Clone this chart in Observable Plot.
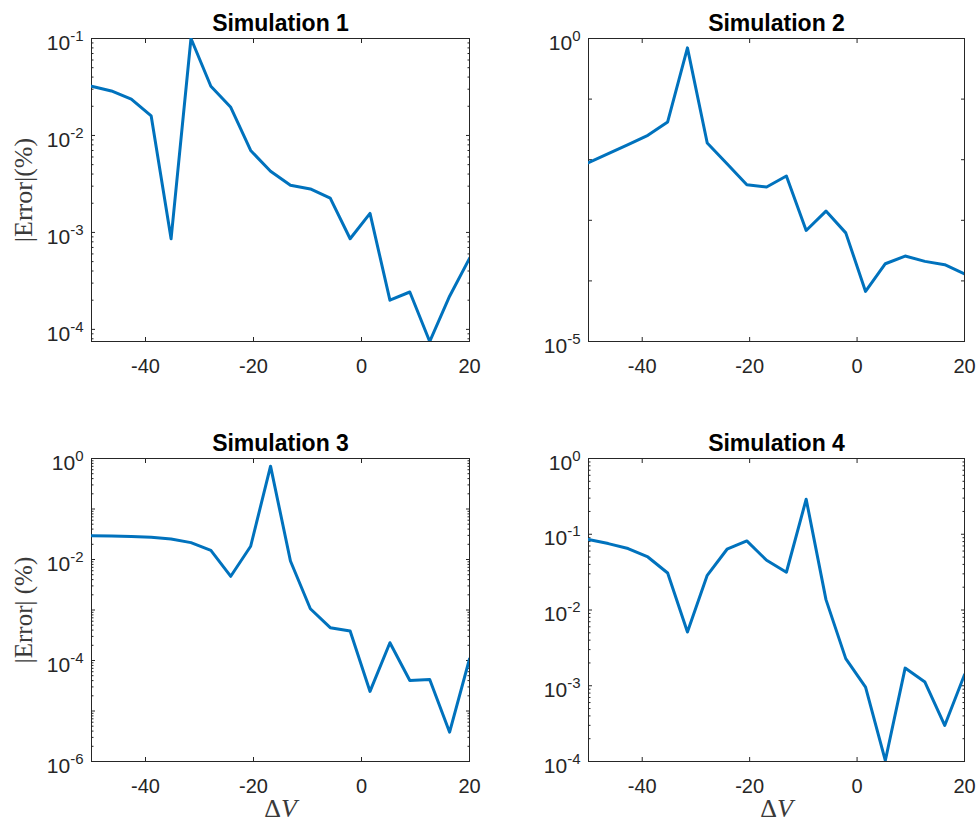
<!DOCTYPE html>
<html>
<head>
<meta charset="utf-8">
<script src="https://cdn.jsdelivr.net/npm/d3@7"></script>
<script src="https://cdn.jsdelivr.net/npm/@observablehq/plot@0.6"></script>
<style>
  body { margin: 0; background: #fff; }
  #fig { position: relative; width: 980px; height: 821px; background: #fff; }
  .panel { position: absolute; }
</style>
</head>
<body>
<div id="fig"></div>
<script>
// Voltage offsets shared by every simulation
const deltaV = [-50, -46.316, -42.632, -38.947, -35.263, -31.579, -27.895, -24.211, -20.526, -16.842,
                -13.158, -9.474, -5.789, -2.105, 1.579, 5.263, 8.947, 12.632, 16.316, 20];

const titles = ["Simulation 1", "Simulation 2", "Simulation 3", "Simulation 4"];

// |Error| (%) for each simulation
const err1 = [0.0322, 0.0288, 0.0237, 0.0159, 8.6e-4, 0.1, 0.0322, 0.0195, 0.0070, 0.00427,
              0.00306, 0.00281, 0.00226, 8.6e-4, 0.00157, 2.0e-4, 2.43e-4, 7.5e-5, 2.2e-4, 5.4e-4];
const err2 = [0.00895, 0.0126, 0.0178, 0.0253, 0.0420, 0.70, 0.0189, 0.0086, 0.00387, 0.00355,
              0.00538, 6.8e-4, 1.42e-3, 6.2e-4, 6.7e-5, 1.92e-4, 2.57e-4, 2.10e-4, 1.85e-4, 1.31e-4];
const err3 = [0.0297, 0.0293, 0.0284, 0.0275, 0.0255, 0.0216, 0.0152, 0.00465, 0.0183, 0.705,
              0.00935, 1.06e-3, 4.46e-4, 3.83e-4, 2.44e-5, 2.25e-4, 4.03e-5, 4.22e-5, 3.8e-6, 1.07e-4];
const err4 = [0.0851, 0.0753, 0.0647, 0.0501, 0.0308, 0.00512, 0.0287, 0.0634, 0.0817, 0.0453,
              0.0315, 0.290, 0.0137, 0.00228, 9.6e-4, 1.03e-4, 1.71e-3, 1.12e-3, 2.99e-4, 1.40e-3];

// Axis domains and ticks
const xDomain = [-50, 20];
const xTicks = [-40, -20, 0, 20];

const yDomain1 = [7.5e-5, 1e-1];
const yDomain2 = [1e-5, 1e0];
const yDomain3 = [1e-6, 1e0];
const yDomain4 = [1e-4, 1e0];

const yMajor1 = [1e-4, 1e-3, 1e-2, 1e-1];
const yMajor2 = [1e-5, 1e-4, 1e-3, 1e-2, 1e-1, 1e0];
const yMajor3 = [1e-6, 1e-5, 1e-4, 1e-3, 1e-2, 1e-1, 1e0];
const yMajor4 = [1e-4, 1e-3, 1e-2, 1e-1, 1e0];

const yLabels1 = [1e-4, 1e-3, 1e-2, 1e-1];
const yLabels2 = [1e-5, 1e0];
const yLabels3 = [1e-6, 1e-4, 1e-2, 1e0];
const yLabels4 = [1e-4, 1e-3, 1e-2, 1e-1, 1e0];

const yTitle1 = "|Error|(%)";
const yTitle3 = "|Error| (%)";
const xTitle = "ΔV";

const INK = "#262626";
const LINE = "#0072BD";
const SANS = "'Liberation Sans', Arial, Helvetica, sans-serif";
const SERIF = "'Liberation Serif', 'DejaVu Serif', serif";

// 2..9 × 10^k sub-ticks that fall inside a log domain
function logMinor([lo, hi]) {
  const out = [];
  for (let k = Math.floor(Math.log10(lo)); k <= Math.ceil(Math.log10(hi)); k++) {
    for (let m = 2; m <= 9; m++) {
      const v = m * Math.pow(10, k);
      if (v >= lo * 0.9999 && v <= hi * 1.0001) out.push(v);
    }
  }
  return out;
}

const powerLabel = d => `10^${Math.round(Math.log10(d))}`;
const blank = () => "";

function panel(cfg) {
  const rows = deltaV.map((v, i) => ({dv: v, err: cfg.values[i]}));
  const minor = cfg.minor ? logMinor(cfg.yDomain) : [];
  const marks = [
    Plot.frame({stroke: INK, strokeWidth: 1}),
    // x axis: labels below, inward ticks on bottom and top
    Plot.axisX(xTicks, {anchor: "bottom", tickSize: 0, tickPadding: 17, tickFormat: d => String(d),
                        label: null, fontSize: 20, fill: INK}),
    Plot.axisX(xTicks, {anchor: "bottom", tickSize: -4, tickFormat: blank, label: null, stroke: INK}),
    Plot.axisX(xTicks, {anchor: "top", tickSize: -4, tickFormat: blank, label: null, stroke: INK}),
    // y axis: power-of-ten labels, inward ticks on left and right
    Plot.axisY(cfg.yLabels, {anchor: "left", tickSize: 0, tickPadding: 8, tickFormat: powerLabel,
                             label: null, fontSize: 21, dy: 4.5, fill: INK}),
    Plot.axisY(cfg.yMajor, {anchor: "left", tickSize: -4, tickFormat: blank, label: null, stroke: INK}),
    Plot.axisY(cfg.yMajor, {anchor: "right", tickSize: -4, tickFormat: blank, label: null, stroke: INK}),
  ];
  if (minor.length) {
    marks.push(
      Plot.axisY(minor, {anchor: "left", tickSize: -2.5, tickFormat: blank, label: null, stroke: INK}),
      Plot.axisY(minor, {anchor: "right", tickSize: -2.5, tickFormat: blank, label: null, stroke: INK})
    );
  }
  marks.push(
    Plot.line(rows, {x: "dv", y: "err", stroke: LINE, strokeWidth: 3, clip: true}),
    Plot.text([cfg.title], {frameAnchor: "top", lineAnchor: "bottom", dy: -8, fontSize: 23,
                            fontWeight: "bold", fill: "#000", fontFamily: SANS})
  );
  if (cfg.yTitle) {
    marks.push(Plot.text([cfg.yTitle], {frameAnchor: "left", rotate: -90, dx: -68, textAnchor: "middle",
                                        lineAnchor: "middle", fontSize: cfg.yTitleSize, fill: "#3a3a3a",
                                        fontFamily: SERIF}));
  }
  if (cfg.xTitle) {
    marks.push(Plot.text([cfg.xTitle], {frameAnchor: "bottom", lineAnchor: "bottom", dy: 55,
                                        fontSize: 26, fill: "#3a3a3a", fontFamily: SERIF}));
  }
  const svg = Plot.plot({
    width: cfg.width, height: cfg.height,
    marginLeft: cfg.ml, marginRight: cfg.mr, marginTop: cfg.mt, marginBottom: cfg.mb,
    x: {type: "linear", domain: xDomain},
    y: {type: "log", domain: cfg.yDomain},
    style: {fontFamily: SANS, fontSize: "20px", color: INK, background: "#fff", overflow: "visible"},
    marks
  });

  // exponents as superscripts, italic V in ΔV
  d3.select(svg).selectAll("text").each(function () {
    const t = this.textContent;
    if (/^10\^/.test(t)) {
      const exp = t.slice(3);
      const sel = d3.select(this);
      sel.text("");
      sel.append("tspan").text("10");
      sel.append("tspan").attr("font-size", 15).attr("dy", "-0.6em").text(exp);
    } else if (t === "ΔV") {
      const sel = d3.select(this);
      sel.text("");
      sel.append("tspan").text("Δ");
      sel.append("tspan").attr("font-style", "italic").text("V");
    }
  });

  const holder = document.createElement("div");
  holder.className = "panel";
  holder.style.left = cfg.left + "px";
  holder.style.top = cfg.top + "px";
  holder.appendChild(svg);
  document.getElementById("fig").appendChild(holder);
}

panel({title: titles[0], values: err1, yDomain: yDomain1, yMajor: yMajor1, yLabels: yLabels1, minor: true,
       yTitle: yTitle1, yTitleSize: 26, left: 0, top: 0, width: 490, height: 410, ml: 91, mr: 21, mt: 38, mb: 69});
panel({title: titles[1], values: err2, yDomain: yDomain2, yMajor: yMajor2, yLabels: yLabels2, minor: false,
       left: 490, top: 0, width: 490, height: 410, ml: 98, mr: 16, mt: 38, mb: 69});
panel({title: titles[2], values: err3, yDomain: yDomain3, yMajor: yMajor3, yLabels: yLabels3, minor: true,
       yTitle: yTitle3, yTitleSize: 25, xTitle, left: 0, top: 410, width: 490, height: 411, ml: 91, mr: 21, mt: 48, mb: 60});
panel({title: titles[3], values: err4, yDomain: yDomain4, yMajor: yMajor4, yLabels: yLabels4, minor: true,
       xTitle, left: 490, top: 410, width: 490, height: 411, ml: 98, mr: 16, mt: 48, mb: 60});
</script>
</body>
</html>
